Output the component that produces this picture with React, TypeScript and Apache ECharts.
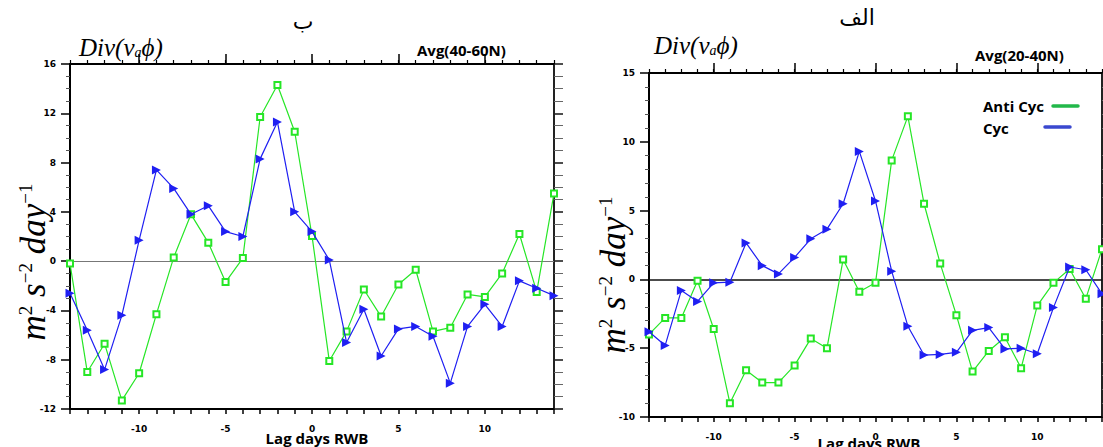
import React, { useEffect, useRef } from "react";
import * as echarts from "echarts";

const days = [-14, -13, -12, -11, -10, -9, -8, -7, -6, -5, -4, -3, -2, -1, 0, 1, 2, 3, 4, 5, 6, 7, 8, 9, 10, 11, 12, 13, 14];

// Left panel (ب) : Avg(40-60N)
const leftAntiCyc = [-0.2, -9.0, -6.7, -11.3, -9.1, -4.3, 0.3, 3.8, 1.5, -1.7, 0.25, 11.7, 14.3, 10.5, 2.05, -8.1, -5.7, -2.3, -4.5, -1.9, -0.7, -5.7, -5.4, -2.7, -2.9, -1.0, 2.2, -2.5, 5.5];
const leftCyc = [-2.6, -5.6, -8.8, -4.4, 1.7, 7.4, 5.9, 3.8, 4.5, 2.4, 2.0, 8.3, 11.3, 4.0, 2.4, 0.1, -6.6, -3.9, -7.7, -5.5, -5.3, -6.1, -9.9, -5.3, -3.5, -5.3, -1.6, -2.2, -2.8];

// Right panel (الف) : Avg(20-40N)
const rightAntiCyc = [-4.0, -2.8, -2.8, -0.1, -3.6, -9.0, -6.6, -7.5, -7.5, -6.25, -4.3, -5.0, 1.45, -0.9, -0.25, 8.65, 11.85, 5.5, 1.15, -2.6, -6.7, -5.2, -4.2, -6.45, -1.9, -0.25, 0.75, -1.4, 2.2];
const rightCyc = [-3.8, -4.8, -0.8, -1.6, -0.25, -0.2, 2.65, 1.0, 0.4, 1.6, 2.95, 3.65, 5.5, 9.3, 5.7, 0.6, -3.4, -5.5, -5.45, -5.3, -3.7, -3.5, -5.05, -5.0, -5.4, -2.05, 0.9, 0.7, -1.05];

const xMajorLabels = [-10, -5, 0, 5, 10];
const leftTitle = "ب";
const rightTitle = "الف";
const leftRegion = "Avg(40-60N)";
const rightRegion = "Avg(20-40N)";
const xName = "Lag days RWB";
const legendNames = ["Anti Cyc", "Cyc"];

const GREEN = "#26e626";
const BLUE = "#1f1ff2";
const LEG_GREEN = "#22b84a";
const LEG_BLUE = "#3a48cf";

const tickFont = { fontFamily: "DejaVu Sans", fontWeight: "bold" as const, fontSize: 9, color: "#000" };

function xAxes(gridIndex: number, labelMargin: number) {
  return [
    {
      gridIndex, type: "value", position: "bottom", min: -14, max: 14, interval: 1,
      axisLine: { onZero: false, lineStyle: { color: "#000", width: 2 } },
      axisTick: { length: 5, lineStyle: { color: "#000", width: 1.5 } },
      axisLabel: { ...tickFont, customValues: xMajorLabels, margin: labelMargin },
      splitLine: { show: false },
    },
    {
      gridIndex, type: "value", position: "top", min: -14, max: 14, interval: 1,
      axisLine: { onZero: false, lineStyle: { color: "#000", width: 2 } },
      axisTick: { length: 4, lineStyle: { color: "#000", width: 1.2 } },
      axisLabel: { show: false },
      splitLine: { show: false },
    },
    {
      gridIndex, type: "value", position: "top", min: -14, max: 14, interval: 1,
      axisLine: { show: false, onZero: false },
      axisTick: { customValues: xMajorLabels, length: 10, lineStyle: { color: "#000", width: 1.5 } },
      axisLabel: { show: false },
      splitLine: { show: false },
    },
  ];
}

function yAxes(gridIndex: number, min: number, max: number, interval: number, split: number) {
  return [
    {
      gridIndex, type: "value", position: "left", min, max, interval,
      axisLine: { onZero: false, lineStyle: { color: "#000", width: 2 } },
      axisTick: { length: 9, lineStyle: { color: "#000", width: 1.5 } },
      minorTick: { show: true, splitNumber: split, length: 4, lineStyle: { color: "#555", width: 1 } },
      axisLabel: { ...tickFont, margin: 14 },
      splitLine: { show: false },
      minorSplitLine: { show: false },
    },
    {
      gridIndex, type: "value", position: "right", min, max, interval,
      axisLine: { onZero: false, lineStyle: { color: "#222", width: 2 } },
      axisTick: { length: 9, lineStyle: { color: "#222", width: 1.6 } },
      minorTick: { show: true, splitNumber: split, length: 9, lineStyle: { color: "#666", width: 1 } },
      axisLabel: { show: false },
      splitLine: { show: false },
      minorSplitLine: { show: false },
    },
  ];
}

function pairs(vals: number[]) {
  return days.map((d, i) => [d, vals[i]]);
}

function antiSeries(vals: number[], xi: number, yi: number, zeroColor: string, zeroWidth: number) {
  return {
    type: "line", name: legendNames[0], xAxisIndex: xi, yAxisIndex: yi, data: pairs(vals),
    symbol: "emptyRect", symbolSize: 6,
    itemStyle: { color: GREEN, borderWidth: 1 },
    lineStyle: { color: GREEN, width: 1.2 },
    z: 3,
    markLine: {
      silent: true, symbol: ["none", "none"], label: { show: false },
      lineStyle: { color: zeroColor, width: zeroWidth, type: "solid" },
      data: [{ yAxis: 0 }], z: 1,
    },
  };
}

function cycSeries(vals: number[], xi: number, yi: number) {
  return {
    type: "line", name: legendNames[1], xAxisIndex: xi, yAxisIndex: yi, data: pairs(vals),
    symbol: "triangle", symbolRotate: -90, symbolSize: 9,
    itemStyle: { color: BLUE },
    lineStyle: { color: BLUE, width: 1.2 },
    z: 4,
  };
}

const serifItalic = { fontFamily: "Liberation Serif", fontStyle: "italic" as const };

function divText(x: number, y: number) {
  return {
    type: "text", x, y,
    style: {
      text: "{i|Div(v}{s|a}{i|ϕ)}",
      rich: {
        i: { ...serifItalic, fontSize: 25, fill: "#000", verticalAlign: "middle" },
        s: { ...serifItalic, fontSize: 14, fill: "#000", verticalAlign: "bottom", padding: [6, 0, 0, 0] },
      },
      align: "left", verticalAlign: "middle",
    },
  };
}

function unitText(x: number, y: number) {
  return {
    type: "text", x, y, rotation: Math.PI / 2,
    style: {
      text: "{m|m}{p|2}{m| s}{p|−2}{m| day}{p|−1}",
      rich: {
        m: { ...serifItalic, fontSize: 35, fill: "#000", verticalAlign: "bottom" },
        p: { fontFamily: "Liberation Serif", fontSize: 19, fill: "#000", verticalAlign: "top" },
      },
      align: "center", verticalAlign: "middle",
    },
  };
}

function plainText(text: string, x: number, y: number, size: number, family: string, weight: string, align: string) {
  return {
    type: "text", x, y,
    style: { text, fontSize: size, fontFamily: family, fontWeight: weight, fill: "#000", align, verticalAlign: "middle" },
  };
}

export default function App() {
  const ref = useRef<HTMLDivElement>(null);
  useEffect(() => {
    if (!ref.current) return;
    const chart = echarts.init(ref.current, null, { renderer: "svg" });
    const option: any = {
      animation: false,
      backgroundColor: "#fff",
      grid: [
        { left: 70, top: 64, width: 484, height: 345 },
        { left: 649, top: 73, width: 453, height: 344 },
      ],
      xAxis: [...xAxes(0, 15), ...xAxes(1, 15)],
      yAxis: [...yAxes(0, -12, 16, 4, 4), ...yAxes(1, -10, 15, 5, 5)],
      series: [
        antiSeries(leftAntiCyc, 0, 0, "#777", 1),
        cycSeries(leftCyc, 0, 0),
        antiSeries(rightAntiCyc, 3, 2, "#111", 1.5),
        cycSeries(rightCyc, 3, 2),
      ],
      graphic: [
        plainText(leftTitle, 303, 21, 22, "DejaVu Sans", "normal", "center"),
        plainText(rightTitle, 857, 17, 22, "DejaVu Sans", "normal", "center"),
        divText(79, 47),
        divText(654, 45),
        plainText(leftRegion, 417, 50, 15, "Open Sans", "bold", "left"),
        plainText(rightRegion, 975, 55, 15, "Open Sans", "bold", "left"),
        unitText(33, 262),
        unitText(613, 275),
        plainText(xName, 317, 438, 15, "Open Sans", "bold", "center"),
        plainText(xName, 869, 443, 15, "Open Sans", "bold", "center"),
        plainText(legendNames[0], 983, 106, 15, "Open Sans", "bold", "left"),
        plainText(legendNames[1], 983, 128, 15, "Open Sans", "bold", "left"),
        { type: "line", shape: { x1: 1053, y1: 106, x2: 1078, y2: 106 }, style: { stroke: LEG_GREEN, lineWidth: 3.5, lineCap: "round" } },
        { type: "line", shape: { x1: 1045, y1: 127, x2: 1070, y2: 127 }, style: { stroke: LEG_BLUE, lineWidth: 3.5, lineCap: "round" } },
      ],
    };
    chart.setOption(option);
    return () => chart.dispose();
  }, []);
  return <div ref={ref} style={{ position: "fixed", left: 0, top: 0, width: 1103, height: 447 }} />;
}
